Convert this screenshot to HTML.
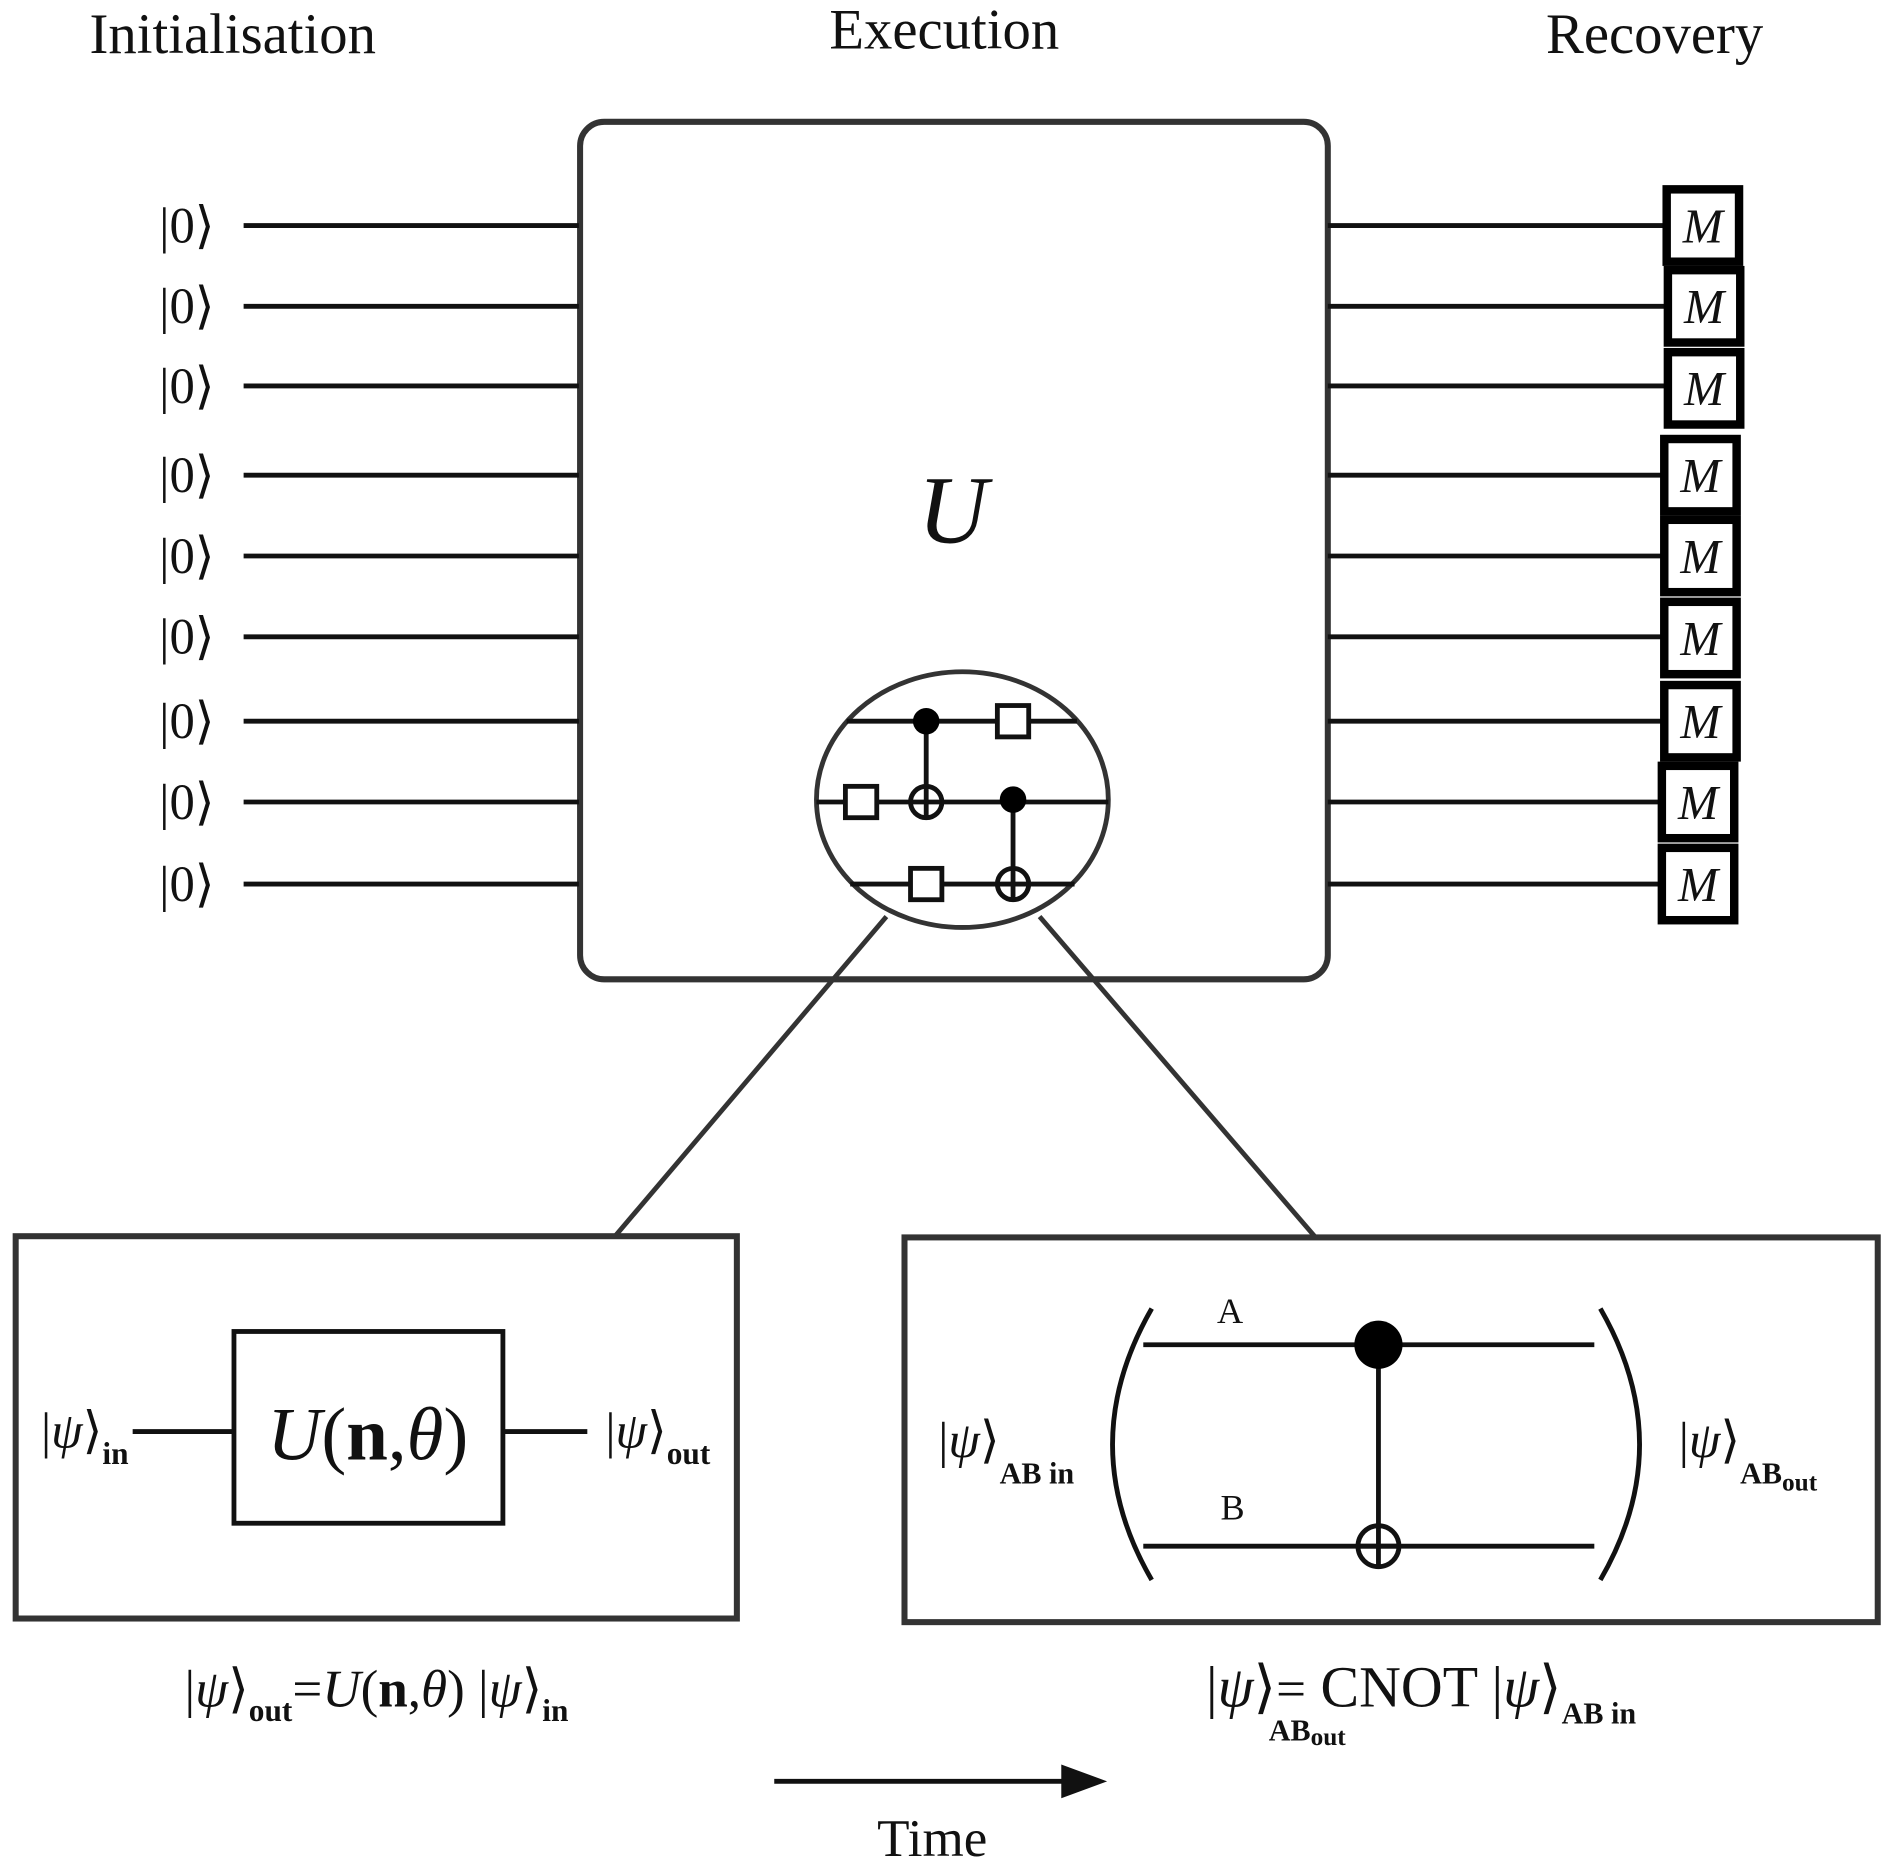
<!DOCTYPE html>
<html><head><meta charset="utf-8"><style>
html,body{margin:0;padding:0;background:#fff;}
svg{display:block}
text{font-family:"Liberation Serif","DejaVu Serif",serif;fill:#111}
</style></head><body>
<svg width="1891" height="1873" viewBox="0 0 1568 1553" preserveAspectRatio="none" xmlns="http://www.w3.org/2000/svg">
<g font-size="47" text-anchor="middle">
<text x="193" y="44">Initialisation</text>
<text x="783" y="40">Execution</text>
<text x="1372" y="44">Recovery</text>
</g>
<rect x="481" y="101" width="620" height="711" rx="20" fill="none" stroke="#333" stroke-width="5"/>
<text x="790" y="450" font-size="80" font-style="italic" text-anchor="middle">U</text>
<g stroke="#111" stroke-width="4">
<line x1="202" y1="187" x2="480" y2="187"/><line x1="202" y1="254" x2="480" y2="254"/><line x1="202" y1="320" x2="480" y2="320"/>
<line x1="202" y1="394" x2="480" y2="394"/><line x1="202" y1="461" x2="480" y2="461"/><line x1="202" y1="528" x2="480" y2="528"/>
<line x1="202" y1="598" x2="480" y2="598"/><line x1="202" y1="665" x2="480" y2="665"/><line x1="202" y1="733" x2="480" y2="733"/>
<line x1="1101" y1="187" x2="1380" y2="187"/><line x1="1101" y1="254" x2="1380" y2="254"/><line x1="1101" y1="320" x2="1380" y2="320"/>
<line x1="1101" y1="394" x2="1380" y2="394"/><line x1="1101" y1="461" x2="1380" y2="461"/><line x1="1101" y1="528" x2="1380" y2="528"/>
<line x1="1101" y1="598" x2="1380" y2="598"/><line x1="1101" y1="665" x2="1380" y2="665"/><line x1="1101" y1="733" x2="1380" y2="733"/>
</g>
<g font-size="42" text-anchor="middle">
<text x="155" y="201">|0⟩</text><text x="155" y="268">|0⟩</text><text x="155" y="334">|0⟩</text>
<text x="155" y="408">|0⟩</text><text x="155" y="475">|0⟩</text><text x="155" y="542">|0⟩</text>
<text x="155" y="612">|0⟩</text><text x="155" y="679">|0⟩</text><text x="155" y="747">|0⟩</text>
</g>
<g stroke="#000" stroke-width="7" fill="#fff">
<rect x="1382" y="157" width="60" height="60"/><rect x="1383" y="224" width="60" height="60"/><rect x="1383" y="292" width="60" height="60"/>
<rect x="1380" y="364" width="60" height="60"/><rect x="1380" y="431" width="60" height="60"/><rect x="1380" y="499" width="60" height="60"/>
<rect x="1380" y="568" width="60" height="60"/><rect x="1378" y="635" width="60" height="60"/><rect x="1378" y="703" width="60" height="60"/>
</g>
<g font-size="40" font-style="italic" text-anchor="middle">
<text x="1412" y="201">M</text><text x="1413" y="268">M</text><text x="1413" y="336">M</text>
<text x="1410" y="408">M</text><text x="1410" y="475">M</text><text x="1410" y="543">M</text>
<text x="1410" y="612">M</text><text x="1408" y="679">M</text><text x="1408" y="747">M</text>
</g>
<ellipse cx="798" cy="663" rx="121" ry="106" fill="#fff" stroke="#333" stroke-width="4"/>
<g stroke="#111" stroke-width="4" fill="#fff">
<line x1="702" y1="598" x2="893" y2="598"/>
<line x1="677" y1="665" x2="919" y2="665"/>
<line x1="705" y1="733" x2="891" y2="733"/>
<line x1="768" y1="598" x2="768" y2="665"/>
<line x1="840" y1="663" x2="840" y2="733"/>
<rect x="827" y="585" width="26" height="26"/>
<rect x="701" y="652" width="26" height="26"/>
<rect x="755" y="720" width="26" height="26"/>
<circle cx="768" cy="665" r="13"/><line x1="755" y1="665" x2="781" y2="665"/><line x1="768" y1="652" x2="768" y2="678"/>
<circle cx="840" cy="733" r="13"/><line x1="827" y1="733" x2="853" y2="733"/><line x1="840" y1="720" x2="840" y2="746"/>
</g>
<circle cx="768" cy="598" r="11" fill="#000"/><circle cx="840" cy="663" r="11" fill="#000"/>
<g stroke="#333" stroke-width="4">
<line x1="735" y1="760" x2="510" y2="1025"/><line x1="862" y1="760" x2="1090" y2="1025"/>
</g>
<rect x="13" y="1025" width="598" height="317" fill="#fff" stroke="#333" stroke-width="5"/>
<rect x="194" y="1104" width="223" height="159" fill="none" stroke="#111" stroke-width="4"/>
<g stroke="#111" stroke-width="4"><line x1="110" y1="1187" x2="194" y2="1187"/><line x1="417" y1="1187" x2="487" y2="1187"/></g>
<text x="305" y="1210" font-size="62" text-anchor="middle"><tspan font-style="italic">U</tspan>(<tspan font-weight="bold">n</tspan>,<tspan font-style="italic">θ</tspan>)</text>
<text x="34" y="1200" font-size="42">|<tspan font-style="italic">ψ</tspan>⟩<tspan font-size="26" dy="14" font-weight="bold">in</tspan></text>
<text x="502" y="1200" font-size="42">|<tspan font-style="italic">ψ</tspan>⟩<tspan font-size="26" dy="14" font-weight="bold">out</tspan></text>
<rect x="750" y="1026" width="807" height="319" fill="#fff" stroke="#333" stroke-width="5"/>
<g stroke="#111" stroke-width="4" fill="none">
<line x1="948" y1="1115" x2="1322" y2="1115"/><line x1="948" y1="1282" x2="1322" y2="1282"/>
<line x1="1143" y1="1115" x2="1143" y2="1299"/>
<circle cx="1143" cy="1282" r="17"/><line x1="1126" y1="1282" x2="1160" y2="1282"/>
<path d="M955 1085 Q890 1198 955 1310"/><path d="M1327 1085 Q1392 1198 1327 1310"/>
</g>
<circle cx="1143" cy="1115" r="20" fill="#000"/>
<text x="1020" y="1097" font-size="30" text-anchor="middle" font-family="Liberation Sans,sans-serif">A</text>
<text x="1022" y="1260" font-size="30" text-anchor="middle" font-family="Liberation Sans,sans-serif">B</text>
<text x="778" y="1208" font-size="42">|<tspan font-style="italic">ψ</tspan>⟩<tspan font-size="25" dy="22" font-weight="bold">AB in</tspan></text>
<text x="1392" y="1208" font-size="42">|<tspan font-style="italic">ψ</tspan>⟩<tspan font-size="25" dy="22" font-weight="bold">AB</tspan><tspan font-size="21" dy="6" font-weight="bold">out</tspan></text>
<text x="153" y="1415" font-size="44">|<tspan font-style="italic">ψ</tspan>⟩<tspan font-size="26" dy="12" font-weight="bold">out</tspan><tspan dy="-12">=</tspan><tspan font-style="italic">U</tspan>(<tspan font-weight="bold">n</tspan>,<tspan font-style="italic">θ</tspan>) |<tspan font-style="italic">ψ</tspan>⟩<tspan font-size="26" dy="12" font-weight="bold">in</tspan></text>
<text x="1000" y="1415" font-size="48">|<tspan font-style="italic">ψ</tspan>⟩<tspan font-size="44">=</tspan> CNOT |<tspan font-style="italic">ψ</tspan>⟩<tspan font-size="25" dy="14" font-weight="bold">AB in</tspan></text>
<text x="1052" y="1443" font-size="25" font-weight="bold">AB<tspan font-size="21" dy="4">out</tspan></text>
<line x1="642" y1="1477" x2="885" y2="1477" stroke="#111" stroke-width="4"/>
<polygon points="880,1463 918,1477 880,1491" fill="#111"/>
<text x="773" y="1539" font-size="44" text-anchor="middle">Time</text>
</svg>
</body></html>
